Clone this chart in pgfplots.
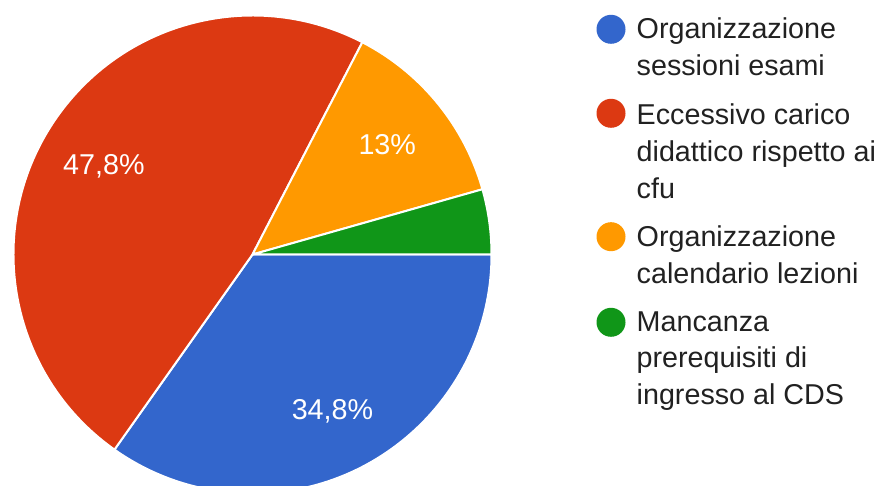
\documentclass[border=0pt]{standalone}
\usepackage{pgfplots}
\usepackage{pgfplotstable}
\pgfplotsset{compat=1.18}
\usetikzlibrary{calc}
\usepackage{fontspec}
\setmainfont{Liberation Sans}

\definecolor{cBlue}{HTML}{3366CC}
\definecolor{cRed}{HTML}{DC3912}
\definecolor{cOrange}{HTML}{FF9900}
\definecolor{cGreen}{HTML}{109618}
\definecolor{cText}{HTML}{212121}

% share of answers (%), slice colour
\pgfplotstableread{
share colour
34.8  cBlue
47.8  cRed
13.0  cOrange
4.4   cGreen
}\piedata

\newcommand{\cx}{252.5}
\newcommand{\cy}{231.5}
\newcommand{\rad}{239}

\begin{document}
\begin{tikzpicture}
\useasboundingbox (0,0) rectangle (884bp,486bp);
\begin{axis}[
    at={(0,0)}, anchor=south west,
    scale only axis,
    width=884bp, height=486bp,
    xmin=0, xmax=884, ymin=0, ymax=486,
    hide axis,
    clip=false,
    /pgf/number format/assume math mode=true,
]
\addplot[draw=none] coordinates {(0,0) (884,486)};

\pgfplotsextra{
  \def\startangle{0}
  \pgfplotsforeachungrouped \i in {0,...,3}{%
    \pgfplotstablegetelem{\i}{share}\of\piedata
    \let\share\pgfplotsretval
    \pgfplotstablegetelem{\i}{colour}\of\piedata
    \let\col\pgfplotsretval
    \pgfmathsetmacro{\endangle}{\startangle-3.6*\share}
    \pgfmathsetmacro{\midangle}{(\startangle+\endangle)/2}
    \fill[\col, draw=white, line width=2bp, line join=round]
      (axis cs:\cx,\cy) -- ++(\startangle:\rad bp)
      arc[start angle=\startangle, end angle=\endangle, radius=\rad bp] -- cycle;
    \pgfmathparse{\share>5 ? 1 : 0}
    \ifnum\pgfmathresult=1
      \node[anchor=base, text=white, inner sep=0pt, yshift=-10.3bp,
            font=\fontsize{28.7bp}{37bp}\selectfont]
        at ($(axis cs:\cx,\cy)+(\midangle:174bp)$)
        {\pgfmathprintnumber[use comma, fixed, precision=1]{\share}\%};
    \fi
    \let\startangle\endangle
  }
}

% legend
\fill[cBlue]   (axis cs:611,456.7) circle[radius=14.5bp];
\fill[cRed]    (axis cs:611,372.7) circle[radius=14.5bp];
\fill[cOrange] (axis cs:611,249.3) circle[radius=14.5bp];
\fill[cGreen]  (axis cs:611,163.7) circle[radius=14.5bp];
\begin{scope}[every node/.style={anchor=base west, inner sep=0pt, text=cText,
    font=\fontsize{28.7bp}{37bp}\selectfont}]
\node at (axis cs:636.5,447) {Organizzazione};
\node at (axis cs:636.5,410) {sessioni esami};
\node at (axis cs:636.5,361) {Eccessivo carico};
\node at (axis cs:636.5,324) {didattico rispetto ai};
\node at (axis cs:636.5,287) {cfu};
\node at (axis cs:636.5,239) {Organizzazione};
\node at (axis cs:636.5,202) {calendario lezioni};
\node at (axis cs:636.5,154) {Mancanza};
\node at (axis cs:636.5,118) {prerequisiti di};
\node at (axis cs:636.5,81)  {ingresso al CDS};
\end{scope}
\end{axis}
\end{tikzpicture}
\end{document}
